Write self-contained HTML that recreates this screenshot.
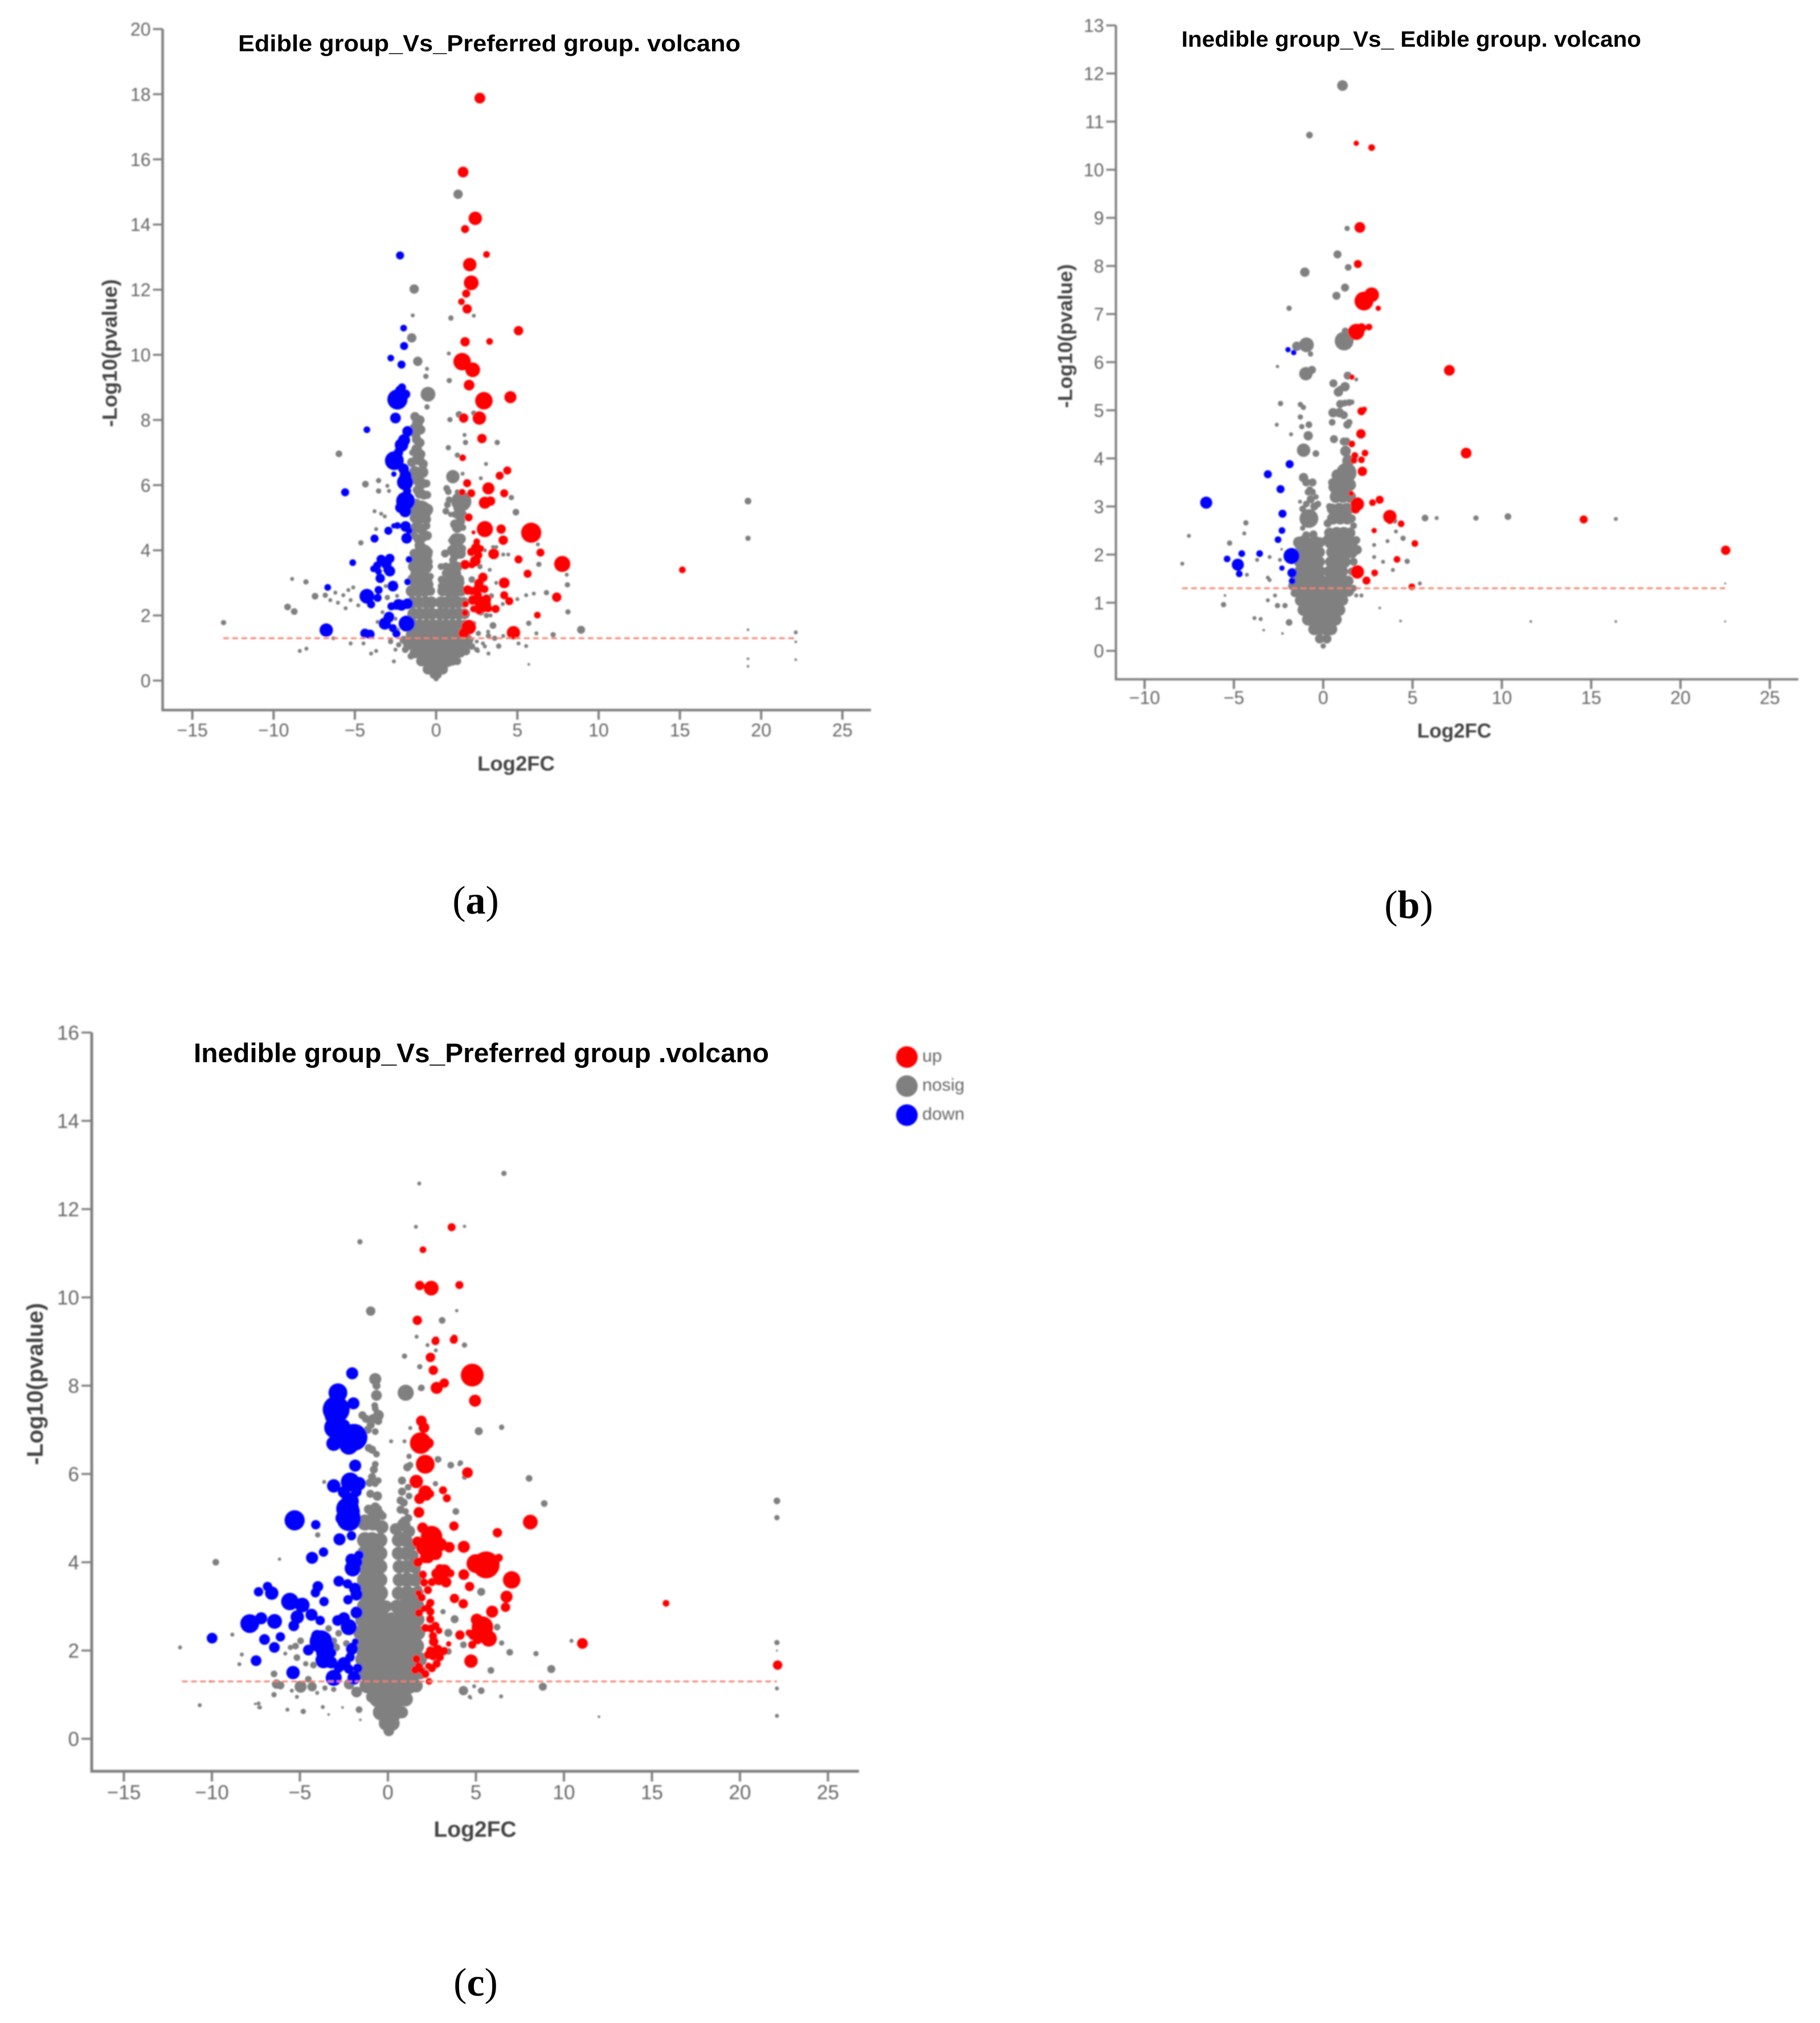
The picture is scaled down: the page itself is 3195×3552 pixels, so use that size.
<!DOCTYPE html>
<html lang="en">
<head>
<meta charset="utf-8">
<title>Volcano plots</title>
<style>
html,body{margin:0;padding:0;background:#fff;}
svg{display:block;}
text{font-family:"Liberation Sans",sans-serif;}
.cap{font-family:"Liberation Serif",serif;font-size:70px;fill:#000;}
.ttl{font-weight:700;fill:#000;}
.axl{font-weight:700;fill:#444;}
</style>
</head>
<body>
<svg id="figure" xmlns="http://www.w3.org/2000/svg" width="3195" height="3552" viewBox="0 0 3195 3552">
<defs><filter id="soft" filterUnits="userSpaceOnUse" x="0" y="0" width="3195" height="3552"><feGaussianBlur stdDeviation="1.3"/></filter></defs>
<rect width="3195" height="3552" fill="#fff"/>
<g id="plots" filter="url(#soft)"></g>

<text class="ttl" x="418" y="90" font-size="41" textLength="882" lengthAdjust="spacingAndGlyphs">Edible group_Vs_Preferred group. volcano</text>
<text class="ttl" x="2074" y="82" font-size="39" textLength="807" lengthAdjust="spacingAndGlyphs">Inedible group_Vs_ Edible group. volcano</text>
<text class="ttl" x="340" y="1865" font-size="47" textLength="1010" lengthAdjust="spacingAndGlyphs">Inedible group_Vs_Preferred group .volcano</text>

<g filter="url(#soft)">
<text class="axl" x="906" y="1353" font-size="36.5" text-anchor="middle">Log2FC</text>
<text class="axl" transform="translate(205,620) rotate(-90)" font-size="36.5" text-anchor="middle">-Log10(pvalue)</text>
<text class="axl" x="2553" y="1295" font-size="35" text-anchor="middle">Log2FC</text>
<text class="axl" transform="translate(1882,590) rotate(-90)" font-size="35.5" text-anchor="middle">-Log10(pvalue)</text>
<text class="axl" x="834" y="3225" font-size="39" text-anchor="middle">Log2FC</text>
<text class="axl" transform="translate(75,2430) rotate(-90)" font-size="40" text-anchor="middle">-Log10(pvalue)</text>
</g>

<g filter="url(#soft)">
<circle cx="1592" cy="1856" r="19" fill="#ff0000"/>
<text x="1619" y="1864" font-size="31" fill="#666">up</text>
<circle cx="1592" cy="1907" r="19" fill="#808080"/>
<text x="1619" y="1915" font-size="31" fill="#666">nosig</text>
<circle cx="1592" cy="1958" r="19" fill="#0000ff"/>
<text x="1619" y="1966" font-size="31" fill="#666">down</text>
</g>

<text class="cap" x="835" y="1604" text-anchor="middle">(<tspan font-weight="700">a</tspan>)</text>
<text class="cap" x="2473" y="1612" text-anchor="middle">(<tspan font-weight="700">b</tspan>)</text>
<text class="cap" x="835" y="3504" text-anchor="middle">(<tspan font-weight="700">c</tspan>)</text>
</svg>

<script>
/* Each mark: [log2FC, -log10(pvalue), bubble magnitude] */
const thresholdP = 1.3;

const xTicksA = [-15,-10,-5,0,5,10,15,20,25];
const yTicksA = [0,2,4,6,8,10,12,14,16,18,20];
const xTicksB = [-10,-5,0,5,10,15,20,25];
const yTicksB = [0,1,2,3,4,5,6,7,8,9,10,11,12,13];
const xTicksC = [-15,-10,-5,0,5,10,15,20,25];
const yTicksC = [0,2,4,6,8,10,12,14,16];

const thresholdRangeA = [-13.1,22.2];
const thresholdRangeB = [-7.9,22.5];
const thresholdRangeC = [-11.7,22.1];

const nosigA = [
[-1.3,8.1,7],[-1.0,8.0,7],[-1.35,7.75,7],[-.95,7.7,7],[-1.2,7.4,7],[-1.2,7.1,8],[-1.5,6.7,7],[-1.1,6.8,9],[-.8,6.65,7],
[-1.3,6.4,9],[-.85,6.4,9],[-.95,6.05,9],[-.6,6.05,6],[-1.0,5.75,8],[-.55,5.7,6],[-.95,5.2,16],[-.55,5.25,9],[-1.3,5.0,8],
[-1.25,4.7,8],[-.9,4.65,8],[-.6,4.75,6],[-1.1,4.35,7],[-.8,4.4,7],[-.8,3.9,14],[-1.35,3.9,7],[-.45,3.95,6],
[-1.4,3.5,8],[-1.0,3.5,8],[-.6,3.45,8],[-1.4,3.1,9],[-1.0,3.1,9],[-.6,3.1,9],[-.35,3.2,5],
[-1.5,2.75,9],[-1.1,2.75,9],[-.7,2.75,9],[-.35,2.75,7],[-1.45,2.4,9],[-1.05,2.4,9],[-.65,2.4,9],[-.3,2.4,9],
[-1.4,2.05,9],[-1,2.05,9],[-.6,2.05,9],[-.25,2.05,9],[-1.4,1.7,9],[-1,1.7,9],[-.6,1.7,9],[-.2,1.7,9],
[-1.5,1.4,9],[-1.1,1.4,9],[-.7,1.4,9],[-.3,1.4,9],[-.05,1.25,7],
[.15,1.4,9],[.55,1.4,9],[.95,1.4,9],[1.35,1.4,9],[1.75,1.4,9],[.2,1.7,9],[.6,1.7,9],[1,1.7,9],[1.4,1.7,9],[1.75,1.7,8],
[.25,2.05,9],[.6,2.05,9],[1,2.05,9],[1.4,2.05,9],[1.75,2.05,8],[.3,2.4,9],[.65,2.4,9],[1,2.4,9],[1.35,2.4,9],[1.7,2.4,8],
[.4,2.75,8],[.8,2.75,9],[1.2,2.75,9],[1.55,2.75,8],[.35,3.1,6],[.7,3.1,6],[1.1,3.1,8],[1.4,3.1,8],
[.3,3.5,5],[.6,3.5,6],[1.0,3.5,7],[1.35,3.5,7],[.55,3.9,6],[1.2,3.9,9],[1.5,3.9,8],[1.25,4.3,11],[.9,4.3,4],
[1.3,4.7,8],[1.65,4.7,5],[1.4,5.1,8],[1.15,5.1,5],[1.65,5.1,6],[1.55,5.5,15],[.7,5.4,5],[.8,5.55,5],[.65,5.9,5],[.75,5.8,5],
[-1.7,1.1,8],[-1.3,1.1,9],[-.9,1.1,9],[-.5,1.1,9],[-.1,1.1,9],[.3,1.1,9],[.7,1.1,9],[1.1,1.1,9],[1.5,1.1,9],[1.8,1.1,8],
[-1.3,.85,8],[-.9,.85,9],[-.5,.85,9],[-.1,.85,9],[.3,.85,9],[.7,.85,9],[1.1,.85,9],[1.5,.85,7],
[-.9,.6,8],[-.5,.6,9],[-.1,.6,9],[.3,.6,9],[.7,.6,9],[1.0,.6,7],[-.5,.35,8],[-.2,.35,8],[.1,.35,8],[.4,.35,8],[-.15,.18,6],[.1,.18,6],[0,.06,4],
[-1.15,7.9,8],[-1.25,7.55,7],[-1.0,7.3,7],[-1.45,7.0,5],[-.95,6.95,7],[-1.4,6.15,6],[-1.15,6.2,8],[-1.2,5.85,6],[-.75,5.7,7],[-1.25,5.4,9],[-.6,4.95,7],[-1.05,4.95,8],[-1.35,4.45,6],[-.55,4.45,7],[-1.0,4.15,8],[-.5,3.65,7],[-1.2,3.7,7],[-1.25,3.3,8],[-.8,3.3,8],[-.4,3.5,5],[-1.25,2.95,8],[-.85,2.95,8],[-.45,2.95,7],
[1.5,4.35,8],[1.0,4.0,8],[1.05,3.7,6],[1.6,4.05,6],[.85,3.3,6],[1.25,3.3,7],[.55,3.3,5],[.75,2.95,7],[.35,2.9,6],[1.15,2.95,7],[1.5,3.0,6],[.6,5.2,5],[1.15,4.8,7],[1.5,4.9,7],[1.35,5.3,7],[.9,5.1,4],
[-2,1.25,6],[2.05,1.25,6],[-1.9,.95,5],[1.85,.9,6],[-1.55,.75,5],[1.3,.6,6],[2.2,1.05,5],[2.5,.95,4],[-2.3,1.1,4],[-2.5,.95,3],
[-3.5,2.6,3],[-3,2.55,4],[-3.1,2.9,3],[-2.5,3.0,3],[-2.4,2.6,3],[-2.5,1.9,3],[-2.4,1.55,4],[-3.3,2.1,3],[-3.6,1.8,3],[-2.8,1.2,4],
[3.2,1.5,3],[3.6,1.3,4],[3.4,2.6,4],[3.7,3.0,3],[3.3,3.4,3],[3.7,4.1,3],[3.0,4.0,3],[2.2,3.1,5],[2.7,3.5,4],[2.4,2.2,6],[2.75,2.1,5],[3.1,2.0,4],[2.3,1.75,4],[2.6,1.45,4],[2.5,1.2,3],[3.0,1.05,3],[4.1,2.35,3],[5,2.5,3],
[1.35,14.93,7],[-1.35,12.02,7],[-1.44,11.21,3],[.91,11.13,4],[2.32,11.2,3],[-1.5,10.52,7],[.78,10.04,3],[-1.13,9.8,7],[-.56,9.57,3],[-.63,9.34,4],
[-.5,8.79,11],[-.56,8.4,4],[.81,9.21,4],[1.41,8.17,5],[.85,8.01,4],[2.32,8.21,4],[1.75,7.54,3],[1.81,7.31,4],[.75,7.15,4],[3.76,7.31,4],
[-5.98,6.96,5],[1.31,6.92,4],[1.63,6.35,3],[3.07,6.65,3],[2.75,6.21,3],[1.03,6.26,10],[1.31,5.79,4],[-4.35,6.03,5],[-3.54,6.14,4],[-3.54,5.82,4],
[-3.0,5.98,3],[-2.9,5.82,3],[4.63,5.62,4],[4.91,5.17,5],[-3.79,5.2,3],[-3.38,5.12,3],[-3.16,5.04,3],[-4.63,4.23,4],[-3.69,4.65,3],
[6.26,4.18,3],[3.5,4.1,3],[4.44,3.87,3],[4.13,3.87,3],[8.04,3.25,3],[8.08,2.94,4],[6.32,3.57,4],
[-8.86,3.12,3],[-8.01,3.03,4],[-7.45,2.59,5],[-6.82,2.62,4],[-6.2,2.7,3],[-5.71,2.62,3],[-5.4,2.78,3],[-5.1,2.86,3],[-6.04,2.39,3],[-5.26,2.47,3],[-4.79,2.31,3],[-6.51,2.47,3],[-5.57,2.22,3],
[-9.14,2.26,5],[-8.73,2.12,5],[-13.08,1.78,4],[-6.32,1.3,3],[-8.39,.91,3],[-7.98,.98,3],
[6.79,2.7,4],[6.01,2.67,3],[5.54,2.62,3],[8.11,2.11,4],[8.92,1.56,6],[7.2,1.41,4],[5.7,1.76,4],[6.17,1.45,3],
[3.5,1.69,5],[3.35,2.0,3],[4.13,1.37,3],[3.22,1.37,4],[3.85,1.06,4],[2.88,1.14,3],[2.57,.91,3],[5.07,1.14,3],[5.54,1.06,3],[3.22,.83,3],[1.94,1.06,3],[5.7,.5,2],
[-3.69,.91,3],[-4,.83,3],[-2.6,.59,3],[-4.47,1.14,3],[-5.26,1.14,3],
[19.19,5.51,5],[19.19,4.37,4],[19.19,1.56,2],[19.19,.67,2],[19.19,.44,2],[22.13,1.48,3],[22.13,1.19,2],[22.13,.64,2]
];
const upA = [
[2.69,17.88,8],[1.66,15.61,8],[2.41,14.19,10],[1.78,13.86,6],[3.1,13.08,5],[2.07,12.77,10],[2.16,12.21,11],[1.85,11.88,6],[1.56,11.63,5],[1.91,11.41,7],
[5.07,10.74,7],[1.78,10.4,7],[3.29,10.41,5],[1.6,9.79,13],[2.25,9.54,11],[2.03,9.07,8],[2.94,8.59,13],[4.57,8.7,9],[1.69,8.06,7],[2.66,8.06,10],
[2.82,7.43,7],[1.63,6.84,5],[4.38,6.45,6],[3.91,6.29,6],[1.91,6.06,6],[3.22,5.9,9],[1.6,5.78,5],[2.16,5.75,6],[4.19,5.75,6],[3.0,5.46,9],[3.35,5.51,7],
[2,5.01,6],[3.0,4.65,12],[4,4.65,7],[5.85,4.54,15],[4.13,4.31,7],[2.5,4.26,5],[6.42,3.93,6],[2.47,4.06,8],[2.16,3.95,6],[3.54,3.89,8],[7.76,3.58,12],
[5.07,3.72,6],[1.78,3.56,7],[2.41,3.67,8],[5.63,3.28,6],[15.15,3.4,5],[2.88,3.17,7],[2.63,2.98,7],[4.19,3.0,8],[7.42,2.56,7],[4.19,2.62,6],[4.5,2.44,6],
[1.94,2.78,7],[2.57,2.81,7],[2.97,2.81,6],[2.88,2.34,12],[2.25,2.47,7],[2.57,2.62,6],[3.2,2.22,6],[3.66,2.2,6],[6.23,2.01,5],[4.76,1.47,10],[2.0,1.64,11],[1.78,2.08,5],
[2.2,2.75,6],[2.7,2.4,7],[3.1,2.5,7],[2.3,2.2,5],[2.65,2.15,6],[2.2,3.55,5],[2.6,3.85,6],[2.75,4.05,5],[1.8,2.35,5],[1.7,1.45,8],[2.3,4.55,3]
];
const downA = [
[-2.22,13.05,6],[-2,10.82,5],[-1.97,10.27,6],[-2.79,9.9,5],[-2.13,9.7,6],[-2.19,8.9,8],[-2.38,8.63,15],[-1.88,8.79,7],[-2.5,8.06,8],[-4.26,7.7,5],
[-1.75,7.65,8],[-1.97,7.38,9],[-2.13,7.23,10],[-2.32,7.0,7],[-2.57,6.75,14],[-2.6,6.34,4],[-1.88,6.29,9],[-1.91,6.09,12],[-1.78,5.82,6],[-5.6,5.78,6],
[-1.88,5.51,14],[-2.19,5.31,8],[-2.38,4.76,5],[-1.88,4.73,8],[-2.94,4.6,6],[-1.81,4.37,8],[-3.79,4.36,6],[-5.13,3.62,5],[-1.66,3.72,5],
[-3.38,3.72,7],[-2.85,3.75,7],[-3.63,3.53,6],[-3.07,3.59,8],[-2.85,3.36,8],[-3.85,3.43,5],[-3.44,3.14,7],[-2.66,2.9,8],[-1.75,3.03,5],[-6.67,2.86,5],
[-3.54,2.78,6],[-3.6,2.54,6],[-4.26,2.59,11],[-4,2.34,6],[-1.75,2.36,8],[-2.32,2.34,8],[-2.75,2.28,6],[-2.13,2.31,8],[-2.9,1.95,8],[-3.16,1.75,9],
[-1.81,1.75,12],[-2.66,1.61,6],[-6.76,1.55,10],[-4.38,1.45,7],[-4.07,1.42,7],[-2.44,1.44,6],
[-3.0,3.4,6],[-3.55,3.35,5],[-2.1,9.0,6],[-1.65,4.6,5],[-2.6,4.75,4],[-1.9,5.2,9],[-2.0,6.5,8],[-2.45,2.3,6]
];

const nosigB = [
[0,.1,4],[-.2,.25,7],[.2,.25,7],[-.5,.45,9],[-.2,.45,9],[.15,.45,9],[.45,.45,9],
[-.85,.65,9],[-.5,.65,9],[-.1,.65,9],[.3,.65,9],[.7,.65,9],[-1.1,.85,9],[-.7,.85,9],[-.3,.85,9],[.1,.85,9],[.5,.85,9],[.9,.85,9],
[-1.25,1.05,9],[-.85,1.05,9],[-.45,1.05,9],[-.05,1.05,9],[.35,1.05,9],[.75,1.05,9],[1.1,1.05,8],
[-1.35,1.25,9],[-.95,1.25,9],[-.55,1.25,9],[-.15,1.25,9],[.25,1.25,9],[.65,1.25,9],[1.05,1.25,9],[1.4,1.25,9],
[-1.3,1.45,9],[-.9,1.45,9],[-.5,1.45,9],[-.1,1.45,9],[.3,1.45,9],[.7,1.45,9],[1.1,1.45,9],[1.4,1.45,8],
[-1.3,1.65,9],[-.9,1.65,9],[-.5,1.65,9],[-.15,1.65,8],[.3,1.65,8],[.7,1.65,9],[1.05,1.65,9],
[-1.3,1.85,9],[-.9,1.85,9],[-.5,1.85,9],[-.2,1.85,8],[.4,1.85,8],[.8,1.85,9],[1.2,1.85,9],
[-1.3,2.05,9],[-.9,2.05,9],[-.5,2.05,9],[-.2,2.05,8],[.5,2.05,9],[.9,2.05,9],[1.3,2.05,9],[1.6,2.05,9],
[-1.35,2.25,9],[-.95,2.25,9],[-.55,2.25,9],[-.2,2.25,8],[.4,2.25,9],[.8,2.25,9],[1.2,2.25,9],[1.6,2.25,9],
[-.95,2.4,6],[-.55,2.42,6],[.35,2.45,8],[.75,2.45,9],[1.15,2.45,9],[1.5,2.45,8],
[-.8,2.75,14],[.55,2.75,9],[.95,2.75,9],[1.35,2.75,9],[-1.15,2.55,4],[-1.15,2.95,5],[.5,2.95,8],[.9,2.95,9],[1.3,2.95,9],[1.55,2.95,7],
[-.7,3.15,6],[-.5,3.0,6],[.7,3.2,9],[1.1,3.2,9],[1.5,3.2,9],[1.0,3.4,17],[-.75,3.35,5],[-.95,3.5,6],[-1.1,3.6,7],[1.3,3.7,15],[.8,3.65,9],[-.6,3.5,6],
[-.4,3.2,4],[-.3,3.05,5],[1.4,3.95,9],[1.25,4.15,8],[1.3,4.35,6],[-1.1,4.17,10],[-.41,4.1,5],[-.84,4.47,7],[-.8,4.7,5],[-1.2,4.66,4],[.6,4.4,6],[1.15,4.35,6],
[.5,4.75,5],[1.35,4.7,6],[1.45,4.75,5],[.55,4.95,7],[.9,4.95,7],[1.15,4.9,6],[.95,5.13,6],[1.2,5.15,5],[1.45,5.16,5],[1.6,5.17,4],
[-1.7,1.35,7],[-1.6,1.2,6],[-1.55,1.55,5],[1.7,1.3,5],[1.85,1.15,3],[1.7,1.85,6],[1.9,2.1,7],[1.85,2.3,6],[1.7,2.6,5],[1.6,1.65,6],[-1.55,2.05,5],[-1.5,2.3,4],[.2,2.3,7],[.25,2.65,6],[.55,3.4,7],[1.5,3.45,9],[.5,3.5,6],[1.65,3.0,6],[1.6,2.75,6],[.35,3.0,5],[-.4,2.3,6],[-.2,2.05,7],
[-.95,3.05,5],[-.6,3.3,5],[-.85,3.3,5],[-1.3,3.1,3],[-1.2,2.35,3],
[1.08,11.75,8],[-.77,10.72,5],[1.34,8.78,4],[.8,8.24,6],[1.4,7.97,5],[-1.03,7.87,7],[1.22,7.55,6],[.74,7.38,6],[-1.91,7.12,4],
[1.17,6.44,14],[-.94,6.36,11],[-1.48,6.33,7],[1.23,6.65,5],[1.57,6.5,5],[-.71,6.17,4],[-2.56,5.91,2.5],[-.97,5.76,10],[-.63,5.84,6],[1.37,5.72,6],[1.85,5.64,3],
[.57,5.56,6],[.85,5.38,7],[1.22,5.49,7],[.95,5.44,5],[-2.39,5.14,4],[-1.28,5.12,4],[-1.11,5.06,4],[-2.6,4.7,3],[-1.28,4.86,4],[-1.8,4.5,3],
[-4.33,2.66,4],[-7.52,2.39,3],[-5.24,2.24,4],[-4.42,2.44,3],[-7.89,1.81,3],[-4.27,1.58,3],[-5.58,.96,4],[-5.5,1.15,2],[-3,1.47,3],[-3.85,.68,3],[-3.5,.66,3],[-3.33,.43,2],
[-2.33,2.11,2],[-3,1.95,3],[-3.7,1.89,3],[-2.56,.94,4],[-2.14,.94,4],[-2.7,1.15,3],[-1.91,.59,5],[-2.28,.36,2],[-3.1,1.52,3],[-2.42,1.89,3],[-3.1,1.05,3],[-1.57,2.25,3],
[5.7,2.76,5],[6.35,2.76,3],[8.55,2.76,4],[10.34,2.79,5],[16.38,2.74,3],[4,2.7,4],[4.47,2.34,4],[4.7,1.86,4],[3.9,1.68,3],[4.07,2.48,3],[2.85,1.95,3],[2.85,2.2,3],
[5.41,1.4,3],[4.33,.62,2],[11.62,.61,2],[16.38,.61,2],[22.5,.61,1.5],[22.5,1.4,1.5],[3.16,.89,2],[2.85,1.58,3],[2.14,1.15,3],[3.35,1.85,3],[3.6,2.28,3]
];
const upB = [
[2.05,8.8,8],[1.94,8.04,6],[1.85,10.55,4],[2.71,10.46,5],[2.71,7.4,11],[2.28,7.27,14],[3.08,7.12,4],[1.85,6.63,12],[1.6,6.65,6],[2.14,6.71,7],[2.56,6.73,5],
[7.06,5.83,8],[1.6,5.69,4],[2.14,4.98,6],[2.3,5.02,4],[2.11,4.51,7],[1.6,4.3,5],[2.34,4.11,5],[8.0,4.11,8],[1.77,4.06,5],[2.14,3.97,5],[1.71,3.96,5],[2.19,3.73,7],
[1.57,3.27,4],[1.91,3.05,10],[1.8,2.95,7],[3.16,3.14,6],[2.76,3.08,5],[3.73,2.79,10],[3.73,2.72,6],[4.36,2.64,5],[14.58,2.73,6],[2.85,2.5,4],[5.13,2.23,5],[22.53,2.09,7],
[4.13,1.9,5],[1.91,1.64,10],[2.88,1.62,5],[2.42,1.46,6],[4.96,1.33,5]
];
const downB = [
[-1.97,6.26,4],[-1.65,6.2,4],[-1.88,3.88,6],[-3.1,3.67,6],[-2.39,3.36,6],[-6.55,3.08,9],[-2.28,2.85,6],[-2.31,2.5,5],[-2.53,2.31,5],[-1.77,1.97,12],
[-3.56,2.02,5],[-4.56,2.02,5],[-5.38,1.91,5],[-4.78,1.79,9],[-2.31,1.72,4],[-1.74,1.62,7],[-4.7,1.6,5],[-1.74,1.45,5]
];

const nosigC = [
[-1.3,4.9,12],[-.85,4.9,12],[-.35,4.8,10],[.45,4.75,9],[.9,4.85,10],[1.2,4.7,9],
[-1.3,4.5,12],[-.9,4.5,12],[-.45,4.5,11],[.6,4.5,10],[1.0,4.5,10],[1.35,4.4,9],
[-1.3,4.2,12],[-.9,4.2,12],[-.45,4.2,11],[.6,4.2,10],[1.0,4.2,10],[1.4,4.15,9],
[-1.3,3.9,12],[-.9,3.9,12],[-.45,3.9,11],[.65,3.9,10],[1.05,3.9,10],[1.5,3.9,10],
[-1.3,3.6,12],[-.9,3.6,12],[-.45,3.6,11],[.65,3.6,10],[1.1,3.6,11],[1.55,3.6,10],
[-1.3,3.3,12],[-.9,3.3,12],[-.45,3.3,12],[.6,3.3,10],[1.1,3.3,11],[1.65,3.3,10],
[-1.3,3.0,12],[-.9,3.0,12],[-.45,3.0,12],[-.1,3.0,9],[.5,3.0,10],[.95,3.0,12],[1.4,3.0,12],[1.7,3.0,10],
[-1.4,2.7,12],[-1,2.7,12],[-.6,2.7,12],[-.2,2.7,12],[.2,2.7,11],[.6,2.7,12],[1,2.7,12],[1.4,2.7,12],[1.7,2.7,10],
[-1.5,2.4,12],[-1.1,2.4,12],[-.7,2.4,12],[-.3,2.4,12],[.1,2.4,12],[.5,2.4,12],[.9,2.4,12],[1.3,2.4,12],[1.7,2.4,11],
[-1.6,2.1,12],[-1.2,2.1,12],[-.8,2.1,12],[-.4,2.1,12],[0,2.1,12],[.4,2.1,12],[.8,2.1,12],[1.2,2.1,12],[1.6,2.1,12],
[-1.4,1.8,12],[-1,1.8,12],[-.6,1.8,12],[-.2,1.8,12],[.2,1.8,12],[.6,1.8,12],[1,1.8,12],[1.4,1.8,12],[1.8,1.8,11],
[-1.3,1.5,12],[-.9,1.5,12],[-.5,1.5,12],[-.1,1.5,12],[.3,1.5,12],[.7,1.5,12],[1.1,1.5,12],[1.5,1.5,12],[1.85,1.5,10],
[-1.2,1.2,11],[-.8,1.2,12],[-.4,1.2,12],[0,1.2,12],[.4,1.2,12],[.8,1.2,12],[1.2,1.2,12],[1.6,1.2,10],
[-.9,.95,9],[-.6,.9,12],[-.2,.9,12],[.2,.9,12],[.6,.9,12],[1,.9,11],[-.4,.6,12],[0,.6,12],[.4,.6,12],[.8,.6,9],[-.1,.35,11],[.25,.35,11],[.05,.18,8],
[-1.1,5.2,7],[-.85,5.05,8],[-.6,5.2,7],[-.3,5.05,6],[-1.0,5.55,6],[-.6,5.5,7],[-1.05,5.8,6],[-.55,5.85,5],[-.8,6.1,6],[-.65,6.45,5],[-.9,6.55,6],[-1.15,7.0,6],[-.85,7.25,7],[-1.25,7.25,6],[-.75,7.55,5],[-.55,7.2,6],[-.65,8.0,6],
[.8,5.6,6],[.9,5.35,6],[1.15,5.0,6],[1.0,5.15,5],[1.2,5.5,5],[1.15,5.7,5],[1.25,6.2,5],[1.2,6.4,4],[.75,4.6,6],[1.65,2.9,7],[1.8,3.1,5],[1.75,3.4,5],[1.7,3.75,6],[1.6,4.05,5],
[6.59,12.81,4],[1.78,12.58,3],[-1.59,11.26,4],[1.59,11.6,3],[4.35,11.61,2.5],[-.98,9.69,7],[3.91,9.7,2.5],[3.08,9.48,5],[1.63,9.11,3],[4.35,8.92,4],[2.25,8.92,3],[.94,8.67,4],[1.81,8.43,4],[2.72,8.8,3],
[-.72,8.15,9],[-.65,7.78,8],[1.01,7.84,12],[1.81,7.93,3],[-.72,7.48,5],[-1.45,7.33,6],[-.54,7.33,8],[-.98,7.11,6],[-1.09,6.59,6],[-.72,6.96,5],
[6.45,7.04,3],[5.18,6.96,4],[.18,6.74,3],[.94,6.74,3],[1.27,7.04,3],[2,6.59,3],[1.1,6.15,6],[.8,5.85,6],[3.62,6.21,3],[4.06,6.22,3],[2.9,6.33,4],[-.72,6.22,5],[-.9,5.93,6],[-.72,5.78,5],[-3.26,5.75,4],[-3.62,5.82,3],
[8.0,5.9,4],[8.91,5.33,4],[22.1,5.39,5],[22.1,5.01,4],[-9.78,4,5],[-6.16,4.07,2.5],[.72,5.4,6],[-.72,5.25,7],[-.47,5.1,7],[.72,5.19,6],[.9,4.96,5],[-3.99,4.62,4],
[22.1,2.18,4],[22.1,1.14,3],[22.1,.52,3],[22.1,2,1.5],[-11.81,2.07,3],[-10.69,.76,3],[-10.1,1.3,2],[-8.84,2.36,3],[-8.3,1.91,3],[-8.44,1.69,3],[-7.54,.79,2],[-7.36,.71,2],
[9.28,1.59,5],[8.8,1.17,5],[8.44,1.93,3],[6.88,1.96,3],[10.43,2.22,3],[11.99,.5,2],[6.41,.96,2],[4.71,.92,2],[4.35,1.08,5],[4.9,1.19,3],[5.33,1.08,3],
[-6.47,1.47,5],[-6.33,1.24,7],[-6.47,1.0,4],[-6.11,1.21,6],[-4.96,1.18,9],[-4.31,1.18,7],[-3.58,1.15,4],[-5.46,1.09,3],[-5.17,.95,3],[-7.35,.8,3],[-7.27,.71,3],[-5.71,.66,3],[-4.81,.62,4],[-3.7,.72,3],[-3.37,.55,2],[-2.58,.71,2],[-1.64,.66,5],[-1.57,.43,2],
[-4.96,2.22,5],[-5.25,2.1,5],[-5.54,2.07,4],[-5.83,1.93,3],[-5.17,1.84,5],[-4.67,1.7,4],[-4.23,1.67,5],[-4.52,1.35,5],[-3.08,2.22,5],[-2.8,2.39,5],[-3.37,2.5,5],[-2.95,2.07,6],[-2.36,2.16,5],[-2.2,1.24,8],[-1.78,1.06,8],[-3.08,1.12,4],[-4.02,1.04,3],
[5.16,6.97,6],[6.46,7.06,4],[1.9,7.95,5],[8.02,5.9,5],[8.88,5.33,5],[3.86,5.15,5],[2.7,5.78,4],[2.84,6.33,5],[3.57,6.2,5],[4.12,6.25,4],[4.36,5.93,4],[5.3,3.33,6],[3.79,2.71,6],[3.43,2.4,6],[3.13,2.88,4],[6.2,2.53,5],[6.46,2.17,4],[6.92,1.96,5],[8.41,1.93,4],[9.28,1.58,6],[8.8,1.18,6],[5.85,1.55,5],[4.29,1.09,7],[5.3,1.09,5],[4.65,.95,3],[6.43,.96,3],[4.29,2.13,5],[3.43,1.98,5]
];
const upC = [
[4.79,8.24,17],[4.95,7.66,9],[2.77,7.95,9],[3.2,8.06,7],[2.58,8.35,7],[2.41,8.64,7],[2.7,9.01,6],[3.74,9.04,6],[1.9,7.2,8],[2.05,7.05,8],[1.86,6.7,16],[2.12,6.22,14],[4.52,6.03,8],
[1.61,5.83,10],[2.12,5.59,10],[1.8,5.44,8],[3.13,5.63,6],[3.35,5.45,6],[1.76,5.13,8],[3.75,4.82,7],[8.09,4.91,11],[6.22,4.67,7],
[1.97,4.78,8],[2.48,4.58,16],[2.12,4.35,14],[1.68,4.46,8],[2.98,4.4,10],[3.49,4.34,8],[2.7,4.2,10],[4.31,4.35,9],[2.12,4.1,8],
[5.58,3.94,20],[5,3.97,14],[6.3,4.1,6],[7.03,3.6,13],[4.31,3.72,8],[3.2,3.8,10],[2.77,3.74,8],[4.64,3.45,7],[6.74,3.22,9],[6.68,2.98,7],[5.92,2.88,9],[3.78,3.18,7],[4.28,3.06,7],
[5.37,2.53,16],[5.73,2.27,12],[4.86,2.36,8],[4.09,2.35,7],[4.79,2.13,6],[4.72,1.76,10],
[1.98,3.72,6],[2.05,3.54,6],[2.27,3.37,6],[1.91,3.2,6],[2.41,3.08,6],[1.76,2.85,6],[2.41,2.88,6],[2.41,2.71,6],[2.12,2.51,6],[2.7,2.56,6],[2.56,2.33,6],[2.85,2.04,6],[3.2,1.99,6],[2.56,1.87,6],[2.77,1.7,6],[2.27,1.9,6],[1.62,1.81,6],[1.76,1.64,6],[1.55,1.56,6],[2.12,1.47,6],[2.34,1.3,5],
[1.7,4.0,7],[1.9,4.3,7],[2.3,4.1,8],[2.9,3.6,8],[3.3,3.55,8],[3.55,3.75,6],[2.95,3.85,7],[2.5,3.55,6],[1.75,3.3,5],[2.3,3.0,5],[2.05,2.95,5],[2.45,2.5,6],[2.9,2.45,5],[2.6,2.2,7],[2.75,2.0,7],[2.4,2.0,6],[2.95,1.85,6],[2.5,1.6,6],[1.9,1.55,5],[2.3,1.65,5],[3.45,2.15,4],[5.05,2.7,9],[4.6,2.4,5],[5.1,2.25,7],[2.2,5.5,7],[2.4,5.55,6],[1.95,5.55,6],[2.1,7.05,6],[2.3,6.7,8],[1.65,6.7,8],
[3.62,11.59,6],[1.99,11.08,5],[1.81,10.27,7],[2.46,10.21,11],[4.06,10.28,6],[1.67,9.48,7],[2.72,9.04,5],[3.77,9.08,5],[2.46,8.65,6],[11.05,2.16,8],[15.8,3.07,5],[22.14,1.67,7]
];
const downC = [
[-2.03,8.28,9],[-2.84,7.84,14],[-1.96,7.6,9],[-2.94,7.46,20],[-3.01,7.05,16],[-3.08,6.69,11],[-1.93,6.83,20],[-2.22,6.65,14],[-1.86,6.19,9],[-2.14,5.82,14],[-1.64,5.78,10],[-3.08,5.73,10],[-2.5,5.59,9],
[-2.29,5.21,17],[-2.15,5.38,13],[-2.22,4.98,18],[-2.07,4.6,7],[-5.3,4.95,15],[-4.1,4.85,7],[-2.75,4.52,9],[-3.66,4.23,7],[-4.31,4.1,9],[-1.64,4.16,7],[-2.07,4.06,9],[-2,3.86,12],[-1.71,4.0,7],
[-2.79,3.57,8],[-2.29,3.51,7],[-1.86,3.4,9],[-1.78,3.27,9],[-3.98,3.45,8],[-4.12,3.31,7],[-6.84,3.45,7],[-7.35,3.33,7],[-6.6,3.3,10],[-5.57,3.11,13],[-4.87,3.03,11],[-3.63,3.11,7],[-2.27,3.15,7],
[-1.78,2.86,9],[-4.34,2.81,9],[-5.15,2.76,10],[-3.85,2.68,7],[-2.5,2.73,9],[-2.86,2.68,8],[-2.22,2.53,12],[-7.85,2.61,14],[-7.2,2.73,9],[-6.44,2.66,11],[-5.35,2.56,8],[-9.99,2.28,8],[-7.01,2.25,8],[-6.11,2.31,7],[-6.45,2.07,8],[-7.49,1.77,8],[-5.39,1.5,10],
[-3.8,2.2,17],[-4.02,2.33,9],[-3.51,2.1,12],[-4.52,2.01,8],[-3.66,1.78,12],[-3.22,1.73,9],[-2.5,1.7,10],[-2.04,2.04,9],[-1.71,1.6,7],[-2.22,1.58,7],[-3.08,1.38,12],[-1.92,1.38,10],[-2.8,1.6,7],
[-2.6,5.0,10],[-2.05,5.15,12],[-1.8,5.6,8],[-2.7,6.9,10],[-3.2,7.3,10],[-2.5,7.1,9],[-3.7,1.95,10],[-3.2,1.95,7],[-2.15,1.85,7],[-1.85,2.2,5]
];

const NS = 'http://www.w3.org/2000/svg';
const plots = document.getElementById('plots');

function makeScale(zero, unit){ return function(v){ return zero + v * unit; }; }
function radius(m){ return m * 1.18; }

function svgEl(tag, attrs, parent){
  const el = document.createElementNS(NS, tag);
  for (const k in attrs) el.setAttribute(k, attrs[k]);
  parent.appendChild(el);
  return el;
}

function drawMarks(group, rows, color, x, y, kind){
  rows.forEach(function(d){
    const c = svgEl('circle', {cx:x(d[0]), cy:y(d[1]), r:radius(d[2]), fill:color}, group);
    
    
  });
}

function drawPanel(p){
  const x = makeScale(p.x0, p.xUnit), y = makeScale(p.y0, -p.yUnit);
  const g = svgEl('g', {}, plots);
  
  

  const axisPath = svgEl('path', {d:'M'+p.axisX+' '+y(p.yTicks[p.yTicks.length-1])+'V'+p.axisY+'H'+p.right, fill:'none', stroke:'#808080', 'stroke-width':p.axisW}, g);
  
  

  p.yTicks.forEach(function(v){
    const t = svgEl('line', {x1:p.axisX-p.tickLen, x2:p.axisX, y1:y(v), y2:y(v), stroke:'#808080', 'stroke-width':3.5}, g);
    
    
    const l = svgEl('text', {x:p.axisX-p.tickLen-4, y:y(v)+p.font*0.36, 'font-size':p.font, fill:'#666', 'text-anchor':'end'}, g);
    l.textContent = String(v);
    
    
  });
  p.xTicks.forEach(function(v){
    const t = svgEl('line', {x1:x(v), x2:x(v), y1:p.axisY, y2:p.axisY+p.tickLen, stroke:'#808080', 'stroke-width':4}, g);
    
    
    const l = svgEl('text', {x:x(v), y:p.xLabelY, 'font-size':p.font, fill:'#666', 'text-anchor':'middle'}, g);
    l.textContent = (v < 0 ? '\u2212' + (-v) : String(v));
    
    
  });

  drawMarks(g, p.nosig, '#808080', x, y, 'nosig');
  drawMarks(g, p.up, '#ff0000', x, y, 'up');
  drawMarks(g, p.down, '#0000ff', x, y, 'down');

  const th = svgEl('line', {x1:x(p.range[0]), x2:x(p.range[1]), y1:y(thresholdP), y2:y(thresholdP), stroke:'#f2806e', 'stroke-width':3, 'stroke-dasharray':'10 6'}, g);
  
  
}

drawPanel({id:'a', x0:765.6, xUnit:28.53, y0:1195, yUnit:57.2, axisX:285.5, axisY:1246.7, right:1529, axisW:4.5, tickLen:17, font:32, xLabelY:1293, xTicks:xTicksA, yTicks:yTicksA, nosig:nosigA, up:upA, down:downA, range:thresholdRangeA});
drawPanel({id:'b', x0:2322.9, xUnit:31.36, y0:1142.7, yUnit:84.47, axisX:1959, axisY:1192.7, right:3157, axisW:4, tickLen:17, font:32, xLabelY:1236, xTicks:xTicksB, yTicks:yTicksB, nosig:nosigB, up:upB, down:downB, range:thresholdRangeB});
drawPanel({id:'c', x0:681, xUnit:30.9, y0:3053, yUnit:77.5, axisX:161, axisY:3110, right:1508, axisW:5, tickLen:18, font:35, xLabelY:3159, xTicks:xTicksC, yTicks:yTicksC, nosig:nosigC, up:upC, down:downC, range:thresholdRangeC});
</script>
</body>
</html>
